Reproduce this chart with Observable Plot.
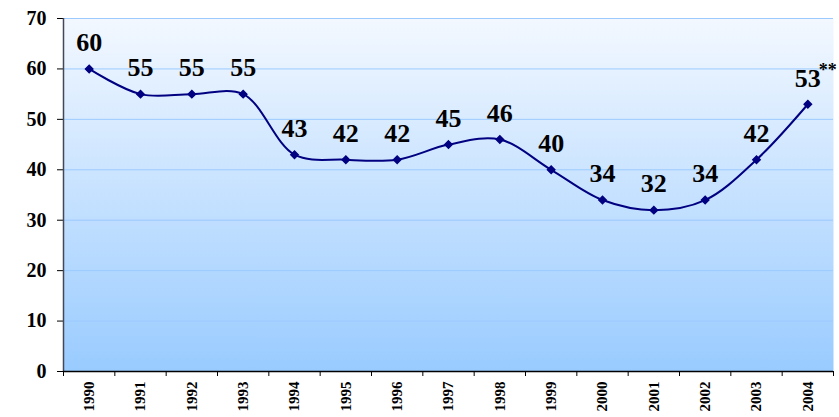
<!DOCTYPE html>
<html>
<head>
<meta charset="utf-8">
<script src="https://cdn.jsdelivr.net/npm/d3@7"></script>
<script src="https://cdn.jsdelivr.net/npm/@observablehq/plot@0.6"></script>
<style>
  html, body { margin: 0; padding: 0; background: #fff; }
  #chart svg text { font-family: "Liberation Serif", "Times New Roman", serif !important; font-weight: 700 !important; }
</style>
</head>
<body>
<div id="chart"></div>
<script>
const years = [1990, 1991, 1992, 1993, 1994, 1995, 1996, 1997, 1998, 1999, 2000, 2001, 2002, 2003, 2004];
const values = [60, 55, 55, 55, 43, 42, 42, 45, 46, 40, 34, 32, 34, 42, 53];
const notes = ["", "", "", "", "", "", "", "", "", "", "", "", "", "", "**"];
const yTicks = [0, 10, 20, 30, 40, 50, 60, 70];

const data = years.map((year, i) => ({year, value: values[i], note: notes[i]}));
const boundaries = [...years.map(y => y - 0.5), years[years.length - 1] + 0.5];
const serif = "Liberation Serif, Times New Roman, serif";

const gradient = () => {
  const defs = d3.create("svg:defs");
  const g = defs.append("linearGradient")
    .attr("id", "bgGrad").attr("x1", 0).attr("y1", 0).attr("x2", 0).attr("y2", 1);
  g.append("stop").attr("offset", "0%").attr("stop-color", "#f3f8ff");
  g.append("stop").attr("offset", "100%").attr("stop-color", "#99cbff");
  return defs.node();
};

const chart = Plot.plot({
  width: 839,
  height: 417,
  marginLeft: 63,
  marginRight: 6,
  marginTop: 18,
  marginBottom: 46,
  style: {fontFamily: serif, fontWeight: "bold", color: "#000", background: "#fff"},
  x: {type: "linear", domain: [1989.5, 2004.5], axis: null, label: null},
  y: {domain: [0, 70], axis: null, label: null},
  marks: [
    gradient,
    Plot.frame({fill: "url(#bgGrad)", stroke: null}),
    Plot.gridY(yTicks, {stroke: "#9ccaff", strokeOpacity: 1, strokeWidth: 1}),
    Plot.axisY(yTicks, {label: null, tickSize: 6, tickPadding: 11, fontSize: 20, fontFamily: serif, fontWeight: "bold", tickFormat: d => String(d), stroke: "#000"}),
    Plot.ruleX([1989.5], {stroke: "#44475a", strokeWidth: 1.5}),
    Plot.ruleY([0], {stroke: "#000", strokeWidth: 1.5}),
    Plot.axisX(boundaries, {label: null, tickSize: 5, tickFormat: () => "", stroke: "#000"}),
    Plot.axisX(years, {label: null, tickSize: 0, tickPadding: 10, tickRotate: -90, fontSize: 15, fontFamily: serif, fontWeight: "bold", tickFormat: d => String(d)}),
    Plot.line(data, {x: "year", y: "value", curve: "catmull-rom", stroke: "#000080", strokeWidth: 2}),
    Plot.dot(data, {x: "year", y: "value", symbol: "diamond2", r: 3.3, fill: "#000080", stroke: "#000080"}),
    Plot.text(data, {x: "year", y: "value", text: d => String(d.value), dy: -26, fontSize: 26, fontFamily: serif, fontWeight: "bold", fill: "#000"}),
    Plot.text(data.filter(d => d.note), {x: "year", y: "value", text: "note", dx: 20, dy: -34, fontSize: 18, fontFamily: serif, fontWeight: "bold", fill: "#000"})
  ]
});
document.getElementById("chart").appendChild(chart);
</script>
</body>
</html>
